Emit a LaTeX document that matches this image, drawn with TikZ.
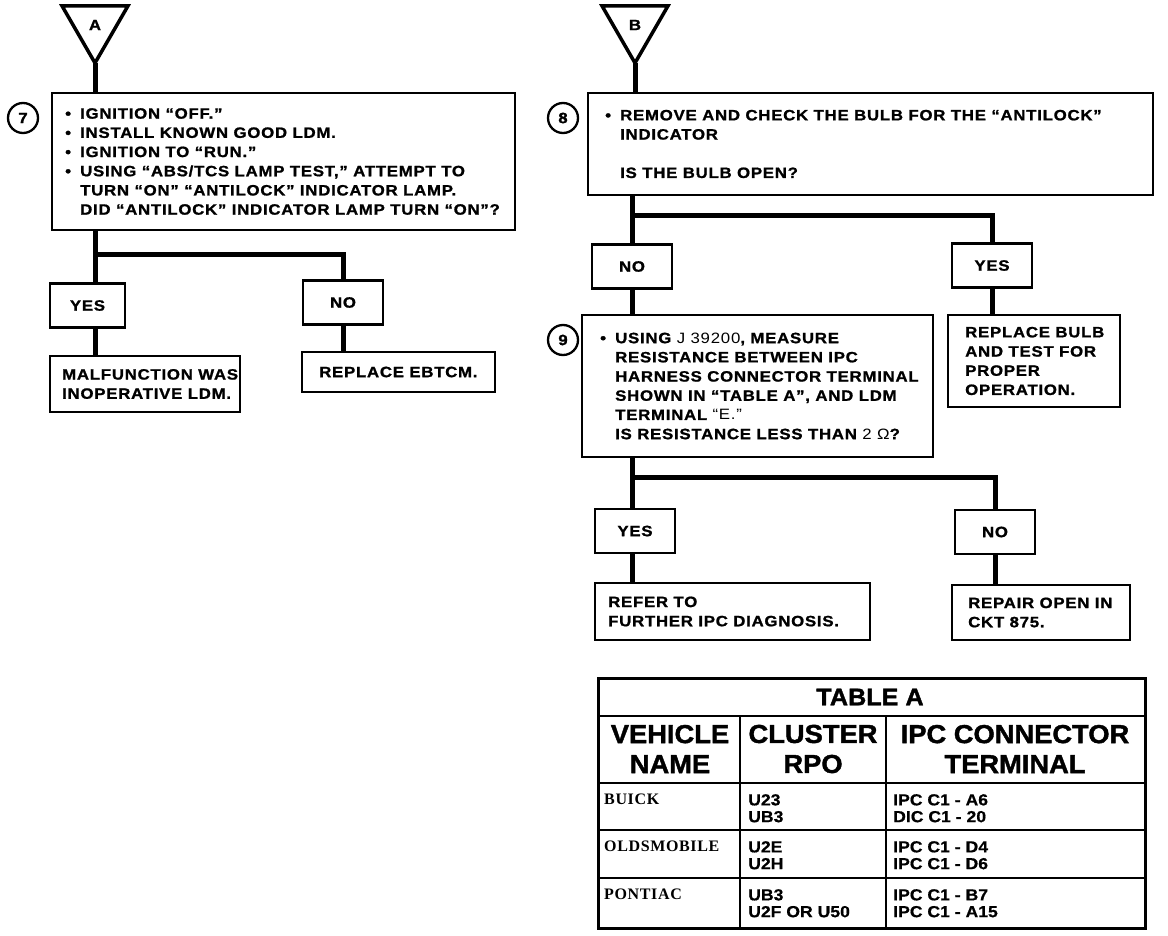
\documentclass[tikz,border=0pt]{standalone}
\usepackage{fontspec}
\setmainfont{Liberation Sans}
\usetikzlibrary{shapes.geometric}
\newfontfamily\myfcw[FakeStretch=1.12,LetterSpace=5,FakeBold=1.2]{Liberation Sans}
\newfontfamily\myfl[FakeStretch=1.12,LetterSpace=5]{Liberation Sans}
\newfontfamily\myfhd[FakeStretch=1.05,FakeBold=1.5]{Liberation Sans}
\newfontfamily\myfcell[FakeStretch=1.1,FakeBold=0.6]{Liberation Sans}
\newfontfamily\myfser[LetterSpace=4]{Liberation Serif}
\newcommand\myftx{\myfcw\bfseries\fontsize{15}{19.2}\selectfont}
\newcommand\myfnum{\myfcw\bfseries\fontsize{15}{15}\selectfont}
\newcommand\myfhead{\myfhd\bfseries\fontsize{26}{30}\selectfont}
\newcommand\myftitle{\myfhd\bfseries\fontsize{24}{24}\selectfont}
\newcommand\myfcl{\myfcell\bfseries\fontsize{16}{16.8}\selectfont}
\newcommand\myfsr{\myfser\bfseries\fontsize{16}{16}\selectfont}
\newcommand\mylt[1]{{\myfl\mdseries #1}}
\newcommand\mybu{\makebox[15pt][l]{•}}
\newcommand\myind{\hspace*{15pt}}
\begin{document}
\begin{tikzpicture}[x=1pt,y=-1pt,
 conn/.style={line width=5pt},
 box/.style={draw, line width=2.6pt, anchor=north west, inner sep=0pt, outer sep=0pt},
 txt/.style={align=left, inner sep=0pt, anchor=west, font=\myftx},
 lbl/.style={draw, line width=2.6pt, inner sep=0pt, outer sep=0pt, minimum height=44pt, font=\myftx},
 circ/.style={circle, draw, line width=2.3pt, minimum size=30pt, inner sep=0pt, font=\myfnum},
 tri/.style={regular polygon, regular polygon sides=3, shape border rotate=180, draw, line width=3.5pt, minimum size=76pt, inner sep=0pt, outer sep=0pt, font=\myfnum},
 tline/.style={line width=2.6pt},
 thead/.style={align=center, inner sep=0pt, font=\myfhead},
 tcell/.style={align=left, inner sep=0pt, anchor=north west, font=\myfcl},
 tser/.style={align=left, inner sep=0pt, anchor=north west, font=\myfsr}
]
\useasboundingbox (0,0) rectangle (1168,936);

% ---------- Left: A ----------
\node[tri] (tA) at (95,25) {A};
\node[circ] (c7) at (23,118) {7};
\node[box, minimum width=463pt, minimum height=137pt] (b7) at (52,93) {};
\node[txt] (t7) at ([xshift=13pt]b7.west) {\mybu IGNITION “OFF.”\\
\mybu INSTALL KNOWN GOOD LDM.\\
\mybu IGNITION TO “RUN.”\\
\mybu USING “ABS/TCS LAMP TEST,” ATTEMPT TO\\
\myind TURN “ON” “ANTILOCK” INDICATOR LAMP.\\
\myind DID “ANTILOCK” INDICATOR LAMP TURN “ON”?};
\coordinate (j7) at (95,255);
\node[lbl, minimum width=75pt] (y7) at (87.5,305.5) {YES};
\node[lbl, minimum width=80pt] (n7) at (343,302.5) {NO};
\node[box, minimum width=190pt, minimum height=56pt] (m7) at (50,356) {};
\node[txt] (m7t) at ([xshift=12pt]m7.west) {MALFUNCTION WAS\\INOPERATIVE LDM.};
\node[box, minimum width=193pt, minimum height=40pt] (r7) at (302,352) {};
\node[txt] (r7t) at ([xshift=17pt]r7.west) {REPLACE EBTCM.};

\draw[conn] (tA.corner 1) -- (tA.corner 1 |- b7.north);
\draw[conn] (j7 |- b7.south) -- (j7 |- y7.north);
\draw[conn] (j7) -| (n7.north);
\draw[conn] (j7 |- y7.south) -- (j7 |- m7.north);
\draw[conn] (n7.south) -- (n7.south |- r7.north);

% ---------- Right: B ----------
\node[tri] (tB) at (635,25) {B};
\node[circ] (c8) at (563,118) {8};
\node[box, minimum width=565pt, minimum height=102pt] (b8) at (588,93) {};
\node[txt] (t8) at ([xshift=17pt]b8.west) {\mybu REMOVE AND CHECK THE BULB FOR THE “ANTILOCK”\\
\myind INDICATOR\\[19.2pt]
\myind IS THE BULB OPEN?};
\coordinate (j8) at (632,216);
\node[lbl, minimum width=80pt] (n8) at (632,266.5) {NO};
\node[lbl, minimum width=80pt] (y8) at (992,265.5) {YES};
\node[circ] (c9) at (563,340) {9};
\node[box, minimum width=351pt, minimum height=142pt] (b9) at (582,315) {};
\node[txt] (t9) at ([xshift=18pt]b9.west) {\mybu USING \mylt{J 39200}, MEASURE\\
\myind RESISTANCE BETWEEN IPC\\
\myind HARNESS CONNECTOR TERMINAL\\
\myind SHOWN IN “TABLE A”, AND LDM\\
\myind TERMINAL \mylt{“E.”}\\
\myind IS RESISTANCE LESS THAN \mylt{2 Ω}?};
\node[box, minimum width=172pt, minimum height=92pt] (rb) at (948,315) {};
\node[txt] (rbt) at ([xshift=17pt]rb.west) {REPLACE BULB\\AND TEST FOR\\PROPER\\OPERATION.};
\coordinate (j9) at (632,477);
\node[lbl, minimum width=80pt] (y9) at (635,531) {YES};
\node[lbl, minimum width=80pt] (n9) at (995,532) {NO};
\node[box, minimum width=275pt, minimum height=57pt] (rf) at (595,583) {};
\node[txt] (rft) at ([xshift=13pt]rf.west) {REFER TO\\FURTHER IPC DIAGNOSIS.};
\node[box, minimum width=178pt, minimum height=55pt] (rp) at (952,585) {};
\node[txt] (rpt) at ([xshift=16pt]rp.west) {REPAIR OPEN IN\\CKT 875.};

\draw[conn] (tB.corner 1) -- (tB.corner 1 |- b8.north);
\draw[conn] (j8 |- b8.south) -- (j8 |- n8.north);
\draw[conn] (j8) -| (y8.north);
\draw[conn] (j8 |- n8.south) -- (j8 |- b9.north);
\draw[conn] (y8.south) -- (y8.south |- rb.north);
\draw[conn] (j9 |- b9.south) -- (j9 |- y9.north);
\draw[conn] (j9) -| (n9.north);
\draw[conn] (j9 |- y9.south) -- (j9 |- rf.north);
\draw[conn] (n9.south) -- (n9.south |- rp.north);

% ---------- Table A ----------
\draw[line width=3pt] (598,678) rectangle (1145,928);
\draw[tline] (598,716) -- (1145,716);
\draw[tline] (598,783) -- (1145,783);
\draw[tline] (598,830) -- (1145,830);
\draw[tline] (598,878) -- (1145,878);
\draw[tline] (740,716) -- (740,928);
\draw[tline] (886,716) -- (886,928);
\node[inner sep=0pt, font=\myftitle] (ttl) at (870,697) {TABLE A};
\node[thead] (h1) at (670,749) {VEHICLE\\NAME};
\node[thead] (h2) at (813,749) {CLUSTER\\RPO};
\node[thead] (h3) at (1015,749) {IPC CONNECTOR\\TERMINAL};
\node[tser] (v1) at (604,794) {BUICK};
\node[tser] (v2) at (604,841) {OLDSMOBILE};
\node[tser] (v3) at (604,889) {PONTIAC};
\node[tcell] (r1) at (748,794) {U23\\UB3};
\node[tcell] (r2) at (748,841) {U2E\\U2H};
\node[tcell] (r3) at (748,889) {UB3\\U2F OR U50};
\node[tcell] (p1) at (893,794) {IPC C1 - A6\\DIC C1 - 20};
\node[tcell] (p2) at (893,841) {IPC C1 - D4\\IPC C1 - D6};
\node[tcell] (p3) at (893,889) {IPC C1 - B7\\IPC C1 - A15};
\end{tikzpicture}
\end{document}
